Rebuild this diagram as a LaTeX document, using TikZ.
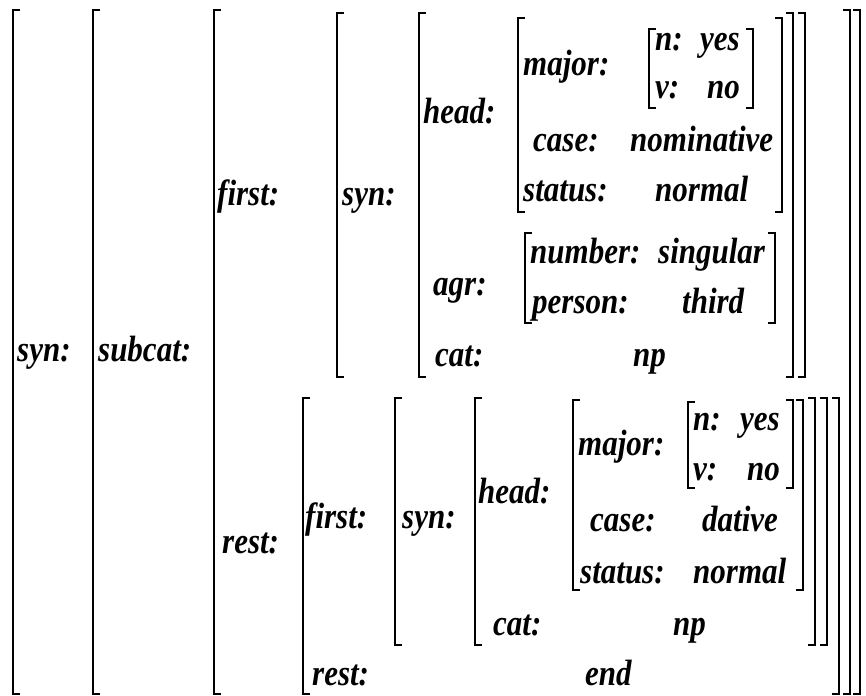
\documentclass[tikz,border=0pt]{standalone}
\usepackage{graphicx}
\usepackage{fontspec}
\setmainfont{Liberation Serif}
\newcommand{\tall}[1]{\scalebox{1}[1.18]{#1}}
\tikzset{
    brk/.style={line width=1.8pt},
    feat/.style={anchor=mid west, inner sep=0pt, yshift=-6pt, font=\fontsize{31}{36}\selectfont\bfseries\itshape}
}
\begin{document}
\begin{tikzpicture}[x=1pt, y=-1pt]
        \useasboundingbox (0,0) rectangle (866,695);
        % Brackets
        \foreach \x/\a/\b in {13/10/694, 93/10/694, 214/10/694, 337/13/377, 419/13/377, 518/18/212, 649/29/108, 525/233/323,
                              303/398/694, 395/398/645, 475/398/645, 573/400/590, 688/402/488}
            \draw [brk] (\x+7,\a) -- (\x,\a) -- (\x,\b) -- (\x+7,\b);
        \foreach \x/\a/\b in {753/29/108, 782/18/212, 775/233/323, 793/13/377, 805/13/377,
                              793/400/488, 803/400/590, 815/398/645, 827/398/645, 839/398/694, 850/10/694, 860/10/694}
            \draw [brk] (\x-7,\a) -- (\x,\a) -- (\x,\b) -- (\x-7,\b);

        % Outer features
        \node [feat] (syn0) at (17,353) {\tall{syn:}};
        \node [feat] (subcat) at (98,353) {\tall{subcat:}};
        \node [feat] (first1) at (217,197) {\tall{first:}};
        \node [feat] (rest1) at (222,545) {\tall{rest:}};

        % First element
        \node [feat] (syn1) at (342,197) {\tall{syn:}};
        \node [feat] (head1) at (423,115) {\tall{head:}};
        \node [feat] (major1) at (523,67) {\tall{major:}};
        \node [feat] (n1) at (655,42) {\tall{n:}};
        \node [feat] (yes1) at (700,42) {\tall{yes}};
        \node [feat] (v1) at (655,90) {\tall{v:}};
        \node [feat] (no1) at (707,90) {\tall{no}};
        \node [feat] (case1) at (533,143) {\tall{case:}};
        \node [feat] (nom) at (630,143) {\tall{nominative}};
        \node [feat] (status1) at (523,193) {\tall{status:}};
        \node [feat] (normal1) at (655,193) {\tall{normal}};
        \node [feat] (agr1) at (433,287) {\tall{agr:}};
        \node [feat] (number1) at (530,255) {\tall{number:}};
        \node [feat] (sing) at (658,255) {\tall{singular}};
        \node [feat] (person1) at (532,305) {\tall{person:}};
        \node [feat] (third) at (682,305) {\tall{third}};
        \node [feat] (cat1) at (435,358) {\tall{cat:}};
        \node [feat] (np1) at (633,358) {\tall{np}};

        % Rest of the list
        \node [feat] (first2) at (305,520) {\tall{first:}};
        \node [feat] (syn2) at (402,520) {\tall{syn:}};
        \node [feat] (head2) at (478,495) {\tall{head:}};
        \node [feat] (major2) at (578,447) {\tall{major:}};
        \node [feat] (n2) at (693,422) {\tall{n:}};
        \node [feat] (yes2) at (740,422) {\tall{yes}};
        \node [feat] (v2) at (693,472) {\tall{v:}};
        \node [feat] (no2) at (747,472) {\tall{no}};
        \node [feat] (case2) at (590,523) {\tall{case:}};
        \node [feat] (dat) at (702,523) {\tall{dative}};
        \node [feat] (status2) at (580,575) {\tall{status:}};
        \node [feat] (normal2) at (693,575) {\tall{normal}};
        \node [feat] (cat2) at (493,627) {\tall{cat:}};
        \node [feat] (np2) at (673,627) {\tall{np}};
        \node [feat] (rest2) at (312,677) {\tall{rest:}};
        \node [feat] (endval) at (585,677) {\tall{end}};
    \end{tikzpicture}
\end{document}
